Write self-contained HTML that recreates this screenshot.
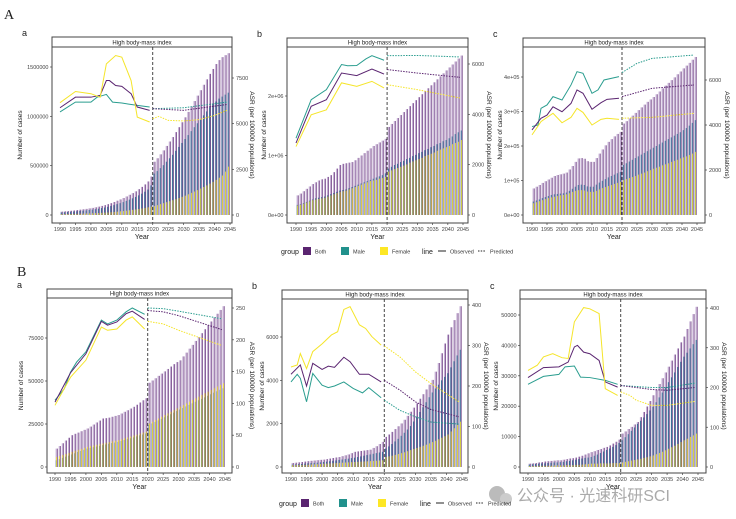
<!DOCTYPE html>
<html><head><meta charset="utf-8">
<style>
body{margin:0;background:#fff;}
svg{display:block;font-family:"Liberation Sans","Noto Sans CJK SC",sans-serif;}
</style></head>
<body>
<svg id="fig" width="736" height="519" viewBox="0 0 736 519" xmlns="http://www.w3.org/2000/svg">
<text x="4" y="19" font-family="Liberation Serif,serif" font-size="14" fill="#222">A</text>
<text x="17" y="276" font-family="Liberation Serif,serif" font-size="14" fill="#222">B</text>
<g>
<circle cx="497" cy="494" r="8" fill="#bbb"/><circle cx="506" cy="499" r="6" fill="#ccc"/>
<text x="517" y="501" font-size="16" fill="#aaa" font-family="Liberation Sans,'Noto Sans CJK SC',sans-serif">公众号 · 光速科研SCI</text>
</g>
</svg>
<script>
const years=[];for(let y=1990;y<=2044;y++)years.push(y);
const xTicks=[1990,1995,2000,2005,2010,2015,2020,2025,2030,2035,2040,2045];
// Panel A-a
const aaBoth=[34,37,40,43,46,50,54,58,62,67,72,78,85,92,100,110,120,132,145,158,172,188,205,222,240,262,285,310,340,390,540,575,615,655,700,745,790,840,890,940,990,1045,1100,1155,1210,1265,1320,1375,1430,1480,1530,1570,1600,1620,1640];
const aaMale=[26,28,30,33,35,38,41,44,47,51,55,59,64,70,76,83,91,100,110,120,131,143,156,169,183,199,216,236,258,300,420,445,475,505,540,575,610,650,690,730,770,810,850,890,930,970,1010,1050,1090,1120,1150,1180,1200,1220,1240];
const aaFemale=[8,9,10,10,11,12,13,14,15,16,17,19,20,22,24,26,28,31,34,37,40,44,48,52,56,61,66,72,78,85,90,100,110,120,130,140,150,160,172,184,196,210,224,238,252,268,284,300,318,336,356,378,400,440,490];
const aaBothObs=[[1990,5870],[1995,6450],[2000,6450],[2003,6550],[2005,7360],[2006,7360],[2008,7090],[2010,7040],[2013,6640],[2015,5910],[2019,5730]];
const aaBothPred=[[2020,5820],[2030,5730],[2044,6050]];
const aaMaleObs=[[1990,5640],[1995,6180],[2000,6180],[2002,6450],[2005,6600],[2007,6180],[2010,6130],[2015,6000],[2019,5910]];
const aaMalePred=[[2020,5820],[2030,5870],[2044,6180]];
const aaFemaleObs=[[1990,6150],[1995,6760],[2000,6640],[2003,6450],[2005,8270],[2008,8730],[2010,8640],[2013,7360],[2015,5360],[2019,5090]];
const aaFemalePred=[[2020,5270],[2022,5400],[2025,5180],[2030,5150],[2035,5220],[2040,5450],[2044,5730]];
const aaLeftTicks=[[0,"0"],[500,"500000"],[1000,"1000000"],[1500,"1500000"]];
const aaRightTicks=[0,2500,5000,7500];
// Panel A-b
const abBoth=[33,36,40,44,48,52,55,58,60,61,64,67,72,78,84,86,87,88,89,92,96,100,104,108,112,116,119,122,125,128,148,153,158,163,168,173,178,183,188,193,198,203,208,213,218,223,228,233,238,243,248,253,258,263,268];
const abMale=[17,18,20,22,24,26,28,29,30,31,33,35,37,39,41,42,43,45,47,49,51,53,55,57,59,61,63,65,67,70,78,81,84,86,89,91,94,96,99,101,104,106,109,111,114,116,119,121,124,126,129,132,136,139,142];
const abFemale=[16,17,19,21,23,25,26,27,28,29,31,33,35,37,39,40,41,43,45,47,49,51,53,55,57,58,59,61,62,64,73,75,77,79,81,83,85,88,90,92,94,96,99,101,103,105,108,110,112,114,116,119,121,123,126];
const abBothObs=[[1990,2860],[1995,4320],[2000,4580],[2005,5640],[2010,5540],[2015,5800],[2019,5600]];
const abBothPred=[[2020,5780],[2030,5640],[2044,5470]];
const abMaleObs=[[1990,3050],[1995,4580],[2000,4980],[2005,5980],[2007,5930],[2010,5940],[2013,6200],[2015,6330],[2019,6150]];
const abMalePred=[[2020,6330],[2030,6340],[2044,6280]];
const abFemaleObs=[[1990,2720],[1995,3980],[2000,4180],[2005,5250],[2010,5110],[2015,5310],[2019,5050]];
const abFemalePred=[[2020,5180],[2030,4980],[2044,4650]];
const abLeftTicks=[[0,"0e+00"],[100,"1e+06"],[200,"2e+06"]];
const abRightTicks=[0,2000,4000,6000];
// Panel A-c
const acBoth=[7.7,8.2,8.7,9.3,9.8,10.3,10.8,11.3,11.6,11.8,12.0,12.3,13.2,14.2,15.4,16.4,16.5,16.3,15.6,15.4,15.4,16.5,17.8,19.0,20.2,21.2,22.0,22.8,23.5,24.1,26.5,27.2,28.0,28.8,29.6,30.4,31.2,32.0,32.8,33.5,34.2,35.0,35.8,36.7,37.5,38.3,39.1,39.9,40.8,41.6,42.5,43.3,44.1,45.0,45.8];
const acMale=[3.9,4.2,4.5,4.9,5.2,5.5,5.8,6.0,6.1,6.2,6.3,6.5,7.0,7.6,8.2,8.7,8.8,8.7,8.3,8.2,8.2,8.8,9.4,9.9,10.4,10.9,11.3,11.7,12.1,12.5,14.5,15.0,15.5,16.0,16.5,17.0,17.5,18.0,18.5,19.0,19.5,20.0,20.5,21.0,21.5,22.0,22.5,23.0,23.5,24.0,24.6,25.2,25.9,26.7,27.5];
const acFemale=[3.4,3.7,4.0,4.3,4.6,4.9,5.1,5.3,5.5,5.7,5.8,6.0,6.3,6.7,7.0,7.2,7.2,7.1,6.8,6.7,6.7,7.0,7.4,7.8,8.1,8.4,8.7,9.0,9.3,9.6,10.1,10.4,10.7,11.0,11.3,11.7,12.0,12.3,12.7,13.0,13.4,13.7,14.0,14.4,14.7,15.0,15.4,15.7,16.0,16.4,16.7,17.0,17.4,17.8,18.3];
const acBothObs=[[1990,3780],[1993,4300],[1995,4440],[1997,4810],[2000,4590],[2003,4960],[2005,5560],[2007,5410],[2010,4700],[2013,4990],[2015,5140],[2019,5190]];
const acBothPred=[[2020,5260],[2030,5630],[2044,5780]];
const acMaleObs=[[1990,3930],[1992,4000],[1993,4740],[1995,4890],[1997,5260],[2000,5110],[2003,5780],[2005,6370],[2007,6300],[2010,5410],[2012,5560],[2014,6000],[2019,6150]];
const acMalePred=[[2020,6330],[2025,6740],[2030,6960],[2044,7110]];
const acFemaleObs=[[1990,3560],[1993,4150],[1995,4340],[1997,4520],[2000,4100],[2003,4340],[2005,4740],[2007,4560],[2010,4000],[2013,4250],[2015,4300],[2019,4250]];
const acFemalePred=[[2020,4300],[2030,4340],[2044,4520]];
const acLeftTicks=[[0,"0e+00"],[10,"1e+05"],[20,"2e+05"],[30,"3e+05"],[40,"4e+05"]];
const acRightTicks=[0,2000,4000,6000];
// Panel B-a
const baBoth=[10.7,12.2,13.8,15.4,17.0,18.5,19.3,20.0,20.8,21.6,22.4,23.5,24.7,25.9,27.0,28.2,28.4,28.7,29.2,29.7,30.2,31.1,32.1,33.0,34.0,35.0,36.2,37.5,38.8,40.0,49.0,50.3,51.6,53.0,54.3,55.6,57.0,58.4,59.8,61.0,62.0,64.3,66.5,68.8,71.0,73.3,75.6,77.8,80.1,82.4,84.6,86.9,89.1,91.3,93.5];
const baMale=[3.9,4.6,5.3,6.0,6.6,7.3,8.0,8.7,9.3,10.0,10.7,11.1,11.5,11.9,12.3,12.7,13.1,13.5,13.9,14.2,14.6,15.1,15.7,16.2,16.7,17.2,17.8,18.4,18.9,19.5,24.4,25.3,26.2,27.1,28.0,28.9,29.8,30.7,31.6,32.5,33.4,34.3,35.2,36.1,37.0,37.9,38.8,39.6,40.5,41.4,42.3,43.2,44.0,44.9,45.8];
const baFemale=[5.8,6.4,7.0,7.6,8.2,8.8,9.4,10.0,10.5,11.1,11.7,12.1,12.5,12.9,13.3,13.7,14.1,14.5,14.9,15.2,15.6,16.1,16.7,17.2,17.7,18.3,18.8,19.4,20.0,20.5,25.3,26.3,27.3,28.2,29.2,30.2,31.2,32.1,33.1,34.1,35.1,36.0,37.0,38.0,39.0,39.9,40.9,41.9,42.9,43.8,44.8,45.8,46.8,47.7,48.7];
const baBothObs=[[1990,102],[1995,148],[2000,178],[2005,229],[2007,223],[2010,228],[2013,241],[2015,245],[2019,232]];
const baBothPred=[[2020,246],[2025,244],[2030,238],[2044,216]];
const baMaleObs=[[1990,105],[1993,123],[1995,149],[1997,165],[2000,181],[2005,231],[2007,225],[2010,231],[2013,244],[2015,250],[2019,240]];
const baMalePred=[[2020,250],[2025,249],[2030,245],[2044,233]];
const baFemaleObs=[[1990,97],[1995,141],[2000,168],[2005,220],[2007,215],[2010,217],[2013,231],[2015,236],[2019,217]];
const baFemalePred=[[2020,229],[2025,225],[2030,215],[2044,191]];
const baLeftTicks=[[0,"0"],[25,"25000"],[50,"50000"],[75,"75000"]];
const baRightTicks=[0,50,100,150,200,250];
// Panel B-b
const bbBoth=[186,200,215,230,250,270,285,300,315,330,340,365,390,415,440,460,500,540,580,640,700,720,740,760,780,800,880,960,1060,1160,1390,1500,1620,1750,1880,2010,2180,2360,2550,2740,2940,3150,3360,3580,3800,4020,4400,4800,5250,5700,6110,6450,6780,7100,7420];
const bbMale=[108,118,128,140,155,170,180,190,200,215,230,248,265,285,305,325,345,365,385,410,430,460,490,520,550,580,610,640,670,700,850,950,1060,1180,1300,1440,1580,1730,1890,2100,2320,2540,2760,2990,3220,3440,3620,3800,4000,4160,4330,4600,4880,5150,5410];
const bbFemale=[80,85,90,95,100,105,112,120,128,138,150,158,166,174,182,190,198,206,214,222,230,238,246,254,262,270,280,290,300,310,460,490,520,560,600,640,680,730,780,830,880,930,980,1030,1090,1150,1210,1280,1350,1420,1500,1640,1790,1940,2090];
const bbBothObs=[[1990,229],[1993,252],[1995,200],[1997,256],[2000,241],[2002,249],[2004,246],[2007,271],[2009,260],[2012,229],[2015,229],[2019,210]];
const bbBothPred=[[2020,214],[2025,190],[2030,161],[2035,142],[2044,124]];
const bbMaleObs=[[1990,210],[1992,229],[1993,219],[1995,161],[1997,231],[2000,202],[2002,196],[2004,200],[2007,210],[2010,194],[2013,183],[2015,196],[2019,171]];
const bbMalePred=[[2020,165],[2025,140],[2030,124],[2035,111],[2044,106]];
const bbFemaleObs=[[1990,247],[1992,252],[1993,280],[1995,243],[1997,285],[2000,304],[2003,326],[2005,334],[2007,389],[2009,396],[2012,351],[2014,342],[2016,322],[2019,301]];
const bbFemalePred=[[2020,299],[2025,272],[2030,235],[2035,206],[2044,161]];
const bbLeftTicks=[[0,"0"],[2000,"2000"],[4000,"4000"],[6000,"6000"]];
const bbRightTicks=[0,100,200,300,400];
// Panel B-c
const bcBoth=[1.1,1.2,1.3,1.5,1.6,1.8,1.9,2.0,2.1,2.2,2.2,2.4,2.6,2.8,2.9,3.1,3.4,3.7,4.1,4.5,4.9,5.2,5.6,5.9,6.3,6.6,7.1,7.7,8.3,9.0,11.0,11.7,12.5,13.2,14.0,14.8,16.4,18.1,19.9,21.7,23.6,25.4,27.3,29.2,31.1,33.0,35.0,37.0,39.0,41.0,42.9,45.4,47.9,50.3,52.7];
const bcMale=[0.8,0.9,1.0,1.1,1.2,1.2,1.3,1.4,1.5,1.5,1.6,1.7,1.9,2.0,2.2,2.4,2.6,2.8,3.0,3.1,3.3,3.7,4.1,4.6,5.1,5.6,6.1,6.6,7.2,7.9,8.8,9.8,10.8,11.9,13.0,14.2,15.2,16.3,17.4,18.6,19.8,21.3,22.9,24.5,26.2,27.9,29.5,31.1,32.9,34.6,36.3,37.6,39.0,40.4,41.8];
const bcFemale=[0.3,0.3,0.3,0.4,0.4,0.4,0.4,0.4,0.5,0.5,0.5,0.5,0.6,0.6,0.6,0.7,0.7,0.8,0.9,1.0,1.1,1.1,1.1,1.2,1.2,1.2,1.2,1.3,1.3,1.3,1.5,1.7,1.9,2.1,2.3,2.5,2.7,3.0,3.2,3.5,3.8,4.2,4.6,5.0,5.5,6.0,6.5,7.0,7.6,8.2,8.8,9.3,9.9,10.4,11.0];
const bcBothObs=[[1990,225],[1995,250],[2000,252],[2003,264],[2005,302],[2006,306],[2008,289],[2010,285],[2013,268],[2015,214],[2019,201]];
const bcBothPred=[[2020,205],[2030,195],[2035,193],[2044,200]];
const bcMaleObs=[[1990,208],[1995,228],[2000,233],[2002,252],[2005,254],[2007,226],[2010,225],[2015,218],[2019,208]];
const bcMalePred=[[2020,205],[2030,200],[2035,200],[2044,211]];
const bcFemaleObs=[[1990,243],[1993,256],[1995,277],[1998,285],[2001,275],[2003,273],[2005,365],[2008,401],[2010,398],[2013,386],[2015,197],[2019,180]];
const bcFemalePred=[[2020,189],[2023,180],[2025,168],[2030,155],[2035,155],[2044,165]];
const bcLeftTicks=[[0,"0"],[10,"10000"],[20,"20000"],[30,"30000"],[40,"40000"],[50,"50000"]];
const bcRightTicks=[0,100,200,300,400];

const NS="http://www.w3.org/2000/svg";
const svg=document.getElementById('fig');
const C={both:"#5a2470",male:"#2a9d8f",female:"#f5e52a",bothBar:"#c4aed3",maleBar:"#3c6f98"};
function el(tag,attrs,parent){const e=document.createElementNS(NS,tag);for(const k in attrs)e.setAttribute(k,attrs[k]);(parent||svg).appendChild(e);return e;}

function panel(id,letter,box,bars,lines,leftTicks,rightTicks){
  const g=el('g',{});
  
  
  const xs=v=>box.x0+(v-1990)*(box.x1-box.x0)/55;
  const yl=v=>box.y0-(v/box.lRef)*(box.y0-box.lRefPix);
  const yr=v=>box.y0-(v/box.rRef)*(box.y0-box.rRefPix);
  const lt=el('text',{x:box.L-30,y:box.st-1,'font-size':9,fill:'#222'},g);lt.textContent=letter;
  
  
  const strip=el('rect',{x:box.L,y:box.st,width:box.R-box.L,height:box.sb-box.st,fill:'#fff',stroke:'#444','stroke-width':1},g);
  
  
  const stt=el('text',{x:(box.L+box.R)/2,y:box.sb-2.5,'font-size':6,'text-anchor':'middle',fill:'#222'},g);stt.textContent='High body-mass index';
  
  
  const slot=(box.x1-box.x0)/55;
  const bg=el('g',{},g);
  
  
  years.forEach((yr,i)=>{
    const cx=xs(yr)+slot*0.5;
    const hb=box.y0-yl(bars[0][i]);
    const b=el('rect',{x:cx-slot*0.3,y:yl(bars[0][i]),width:slot*0.45,height:hb,fill:C.bothBar},bg);
    
    
    const be=el('rect',{x:cx+slot*0.15,y:yl(bars[0][i]),width:slot*0.2,height:hb,fill:C.both},bg);
    
    
    const m=el('rect',{x:cx-slot*0.25,y:yl(bars[1][i]),width:slot*0.35,height:box.y0-yl(bars[1][i]),fill:C.maleBar},bg);
    
    
    const f=el('rect',{x:cx-slot*0.1,y:yl(bars[2][i]),width:slot*0.25,height:box.y0-yl(bars[2][i]),fill:C.female},bg);
    
    
  });
  const dl=el('line',{x1:xs(2020),x2:xs(2020),y1:box.sb,y2:box.bot,stroke:'#333','stroke-width':0.9,'stroke-dasharray':'3,2'},g);
  
  
  lines.forEach(ln=>{
    const p=el('polyline',{points:ln.d.map(q=>xs(q[0])+','+yr(q[1])).join(' '),fill:'none',stroke:C[ln.g],'stroke-width':1,'stroke-dasharray':ln.pred?'1.5,1.2':'none'},g);
    
    
  });
  const ax=el('path',{d:`M${box.L},${box.sb}V${box.bot}H${box.R}V${box.sb}`,fill:'none',stroke:'#444','stroke-width':1},g);
  
  
  leftTicks.forEach(t=>{
    el('line',{x1:box.L-2,x2:box.L,y1:yl(t[0]),y2:yl(t[0]),stroke:'#444','stroke-width':0.7},g);
    const tx=el('text',{x:box.L-3.5,y:yl(t[0])+2,'font-size':5.5,'text-anchor':'end',fill:'#444'},g);tx.textContent=t[1];
    
    
  });
  rightTicks.forEach(t=>{
    el('line',{x1:box.R,x2:box.R+2,y1:yr(t),y2:yr(t),stroke:'#444','stroke-width':0.7},g);
    const tx=el('text',{x:box.R+4,y:yr(t)+2,'font-size':5.5,fill:'#444'},g);tx.textContent=t;
    
    
  });
  xTicks.forEach(t=>{
    el('line',{x1:xs(t),x2:xs(t),y1:box.bot,y2:box.bot+2,stroke:'#444','stroke-width':0.7},g);
    const tx=el('text',{x:xs(t),y:box.bot+8,'font-size':5.5,'text-anchor':'middle',fill:'#444'},g);tx.textContent=t;
    
    
  });
  const xt=el('text',{x:(box.L+box.R)/2,y:box.bot+16,'font-size':7,'text-anchor':'middle',fill:'#222'},g);xt.textContent='Year';
  
  
  const yc=(box.sb+box.bot)/2;
  const ylt=el('text',{x:0,y:0,'font-size':6.5,'text-anchor':'middle',fill:'#222',transform:`translate(${box.L-box.lOff},${yc}) rotate(-90)`},g);ylt.textContent='Number of cases';
  
  
  const yrt=el('text',{x:0,y:0,'font-size':6.5,'text-anchor':'middle',fill:'#222',transform:`translate(${box.R+box.rOff},${yc}) rotate(90)`},g);yrt.textContent='ASR (per 100000 populations)';
  
  
}
function L(g,obs,pred){return [{g:g,d:obs,pred:false},{g:g,d:pred,pred:true}];}
panel('A-a','a',{L:52,R:232,st:37,sb:47,bot:223,x0:60,x1:230,y0:215,lRef:1500,lRefPix:67,rRef:7500,rRefPix:78,lOff:30,rOff:18},[aaBoth,aaMale,aaFemale],[...L('male',aaMaleObs,aaMalePred),...L('both',aaBothObs,aaBothPred),...L('female',aaFemaleObs,aaFemalePred)],aaLeftTicks,aaRightTicks);
panel('A-b','b',{L:287,R:468,st:38,sb:47,bot:223,x0:296,x1:463,y0:215,lRef:200,lRefPix:96,rRef:6000,rRefPix:64,lOff:21,rOff:19},[abBoth,abMale,abFemale],[...L('male',abMaleObs,abMalePred),...L('both',abBothObs,abBothPred),...L('female',abFemaleObs,abFemalePred)],abLeftTicks,abRightTicks);
panel('A-c','c',{L:523,R:705,st:38,sb:47,bot:223,x0:532,x1:697,y0:215,lRef:40,lRefPix:77,rRef:6000,rRefPix:80,lOff:21,rOff:20},[acBoth,acMale,acFemale],[...L('male',acMaleObs,acMalePred),...L('both',acBothObs,acBothPred),...L('female',acFemaleObs,acFemalePred)],acLeftTicks,acRightTicks);
panel('B-a','a',{L:47,R:232,st:289,sb:298,bot:473,x0:55,x1:225,y0:467,lRef:75,lRefPix:338,rRef:250,rRefPix:308,lOff:24,rOff:18},[baBoth,baMale,baFemale],[...L('male',baMaleObs,baMalePred),...L('both',baBothObs,baBothPred),...L('female',baFemaleObs,baFemalePred)],baLeftTicks,baRightTicks);
panel('B-b','b',{L:282,R:468,st:290,sb:299,bot:473,x0:291,x1:462,y0:467,lRef:6000,lRefPix:337,rRef:400,rRefPix:305,lOff:18,rOff:16},[bbBoth,bbMale,bbFemale],[...L('male',bbMaleObs,bbMalePred),...L('both',bbBothObs,bbBothPred),...L('female',bbFemaleObs,bbFemalePred)],bbLeftTicks,bbRightTicks);
panel('B-c','c',{L:520,R:706,st:290,sb:299,bot:473,x0:528,x1:698,y0:467,lRef:50,lRefPix:315,rRef:400,rRefPix:308,lOff:22,rOff:16},[bcBoth,bcMale,bcFemale],[...L('male',bcMaleObs,bcMalePred),...L('both',bcBothObs,bcBothPred),...L('female',bcFemaleObs,bcFemalePred)],bcLeftTicks,bcRightTicks);

function legend(id,x,y){
  const g=el('g',{});
  
  
  const t=el('text',{x:x,y:y+3,'font-size':7,fill:'#222'},g);t.textContent='group';
  
  
  [['Both',C.both,x+22],['Male','#21918c',x+60],['Female','#fde725',x+99]].forEach(e=>{
    const r=el('rect',{x:e[2],y:y-4,width:8,height:8,fill:e[1]},g);
    
    
    const tt=el('text',{x:e[2]+12,y:y+2.5,'font-size':5.5,fill:'#333'},g);tt.textContent=e[0];
    
    
  });
  const t2=el('text',{x:x+141,y:y+3,'font-size':7,fill:'#222'},g);t2.textContent='line';
  
  
  el('line',{x1:x+157,x2:x+165,y1:y,y2:y,stroke:'#222','stroke-width':1},g);
  const o=el('text',{x:x+169,y:y+2.5,'font-size':5.5,fill:'#333'},g);o.textContent='Observed';
  
  
  el('line',{x1:x+197,x2:x+205,y1:y,y2:y,stroke:'#222','stroke-width':1,'stroke-dasharray':'1.5,1.2'},g);
  const p=el('text',{x:x+209,y:y+2.5,'font-size':5.5,fill:'#333'},g);p.textContent='Predicted';
  
  
}
legend('a',281,251);
legend('b',279,503);
</script>
</body></html>
